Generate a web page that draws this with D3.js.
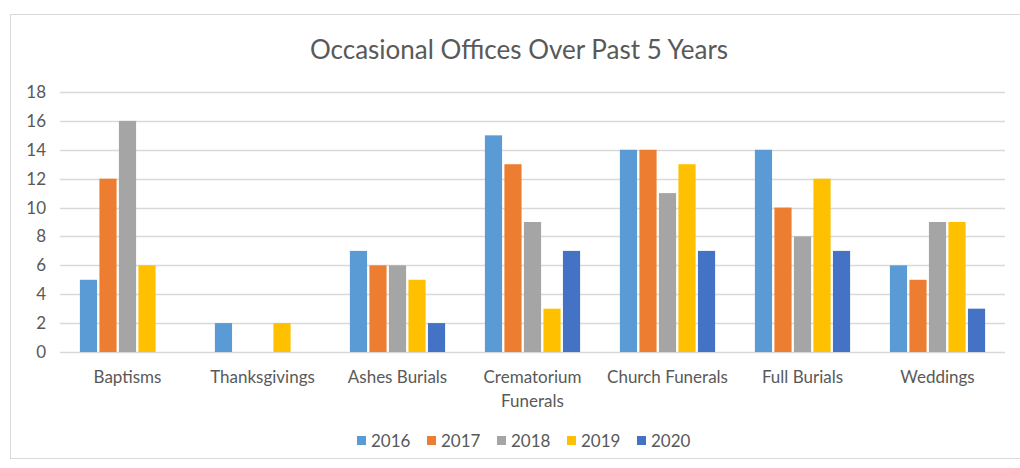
<!DOCTYPE html>
<html>
<head>
<meta charset="utf-8">
<script src="https://cdn.jsdelivr.net/npm/d3@7"></script>
<style>
  body { margin: 0; background: #fff; }
  text { font-family: Lato, "Open Sans", sans-serif; fill: #595959; }
</style>
</head>
<body>
<svg id="chart"></svg>
<script>
const categories = ['Baptisms', 'Thanksgivings', 'Ashes Burials', 'Crematorium Funerals', 'Church Funerals', 'Full Burials', 'Weddings'];
const years = ['2016', '2017', '2018', '2019', '2020'];
const v2016 = [5, 2, 7, 15, 14, 14, 6];
const v2017 = [12, 0, 6, 13, 14, 10, 5];
const v2018 = [16, 0, 6, 9, 11, 8, 9];
const v2019 = [6, 2, 5, 3, 13, 12, 9];
const v2020 = [0, 0, 2, 7, 7, 7, 3];
const yTicks = [0, 2, 4, 6, 8, 10, 12, 14, 16, 18];
const colors = ['#5B9BD5', '#ED7D31', '#A5A5A5', '#FFC000', '#4472C4'];

const seriesValues = [v2016, v2017, v2018, v2019, v2020];

const width = 1020, height = 468;
const margin = { top: 92, bottom: 116, left: 60, right: 15 };

let svg = d3.select('#chart')
  .attr('width', width)
  .attr('height', height);

// outer frame
svg.append('rect')
  .attr('x', 10.5)
  .attr('y', 14.5)
  .attr('width', 1030)
  .attr('height', 444)
  .attr('fill', 'none')
  .attr('stroke', '#d9d9d9');

svg.append('text')
  .attr('x', 519)
  .attr('y', 59)
  .attr('text-anchor', 'middle')
  .style('font-size', '26px')
  .text('Occasional Offices Over Past 5 Years');

let x0 = d3.scaleBand()
  .domain(categories)
  .range([margin.left, width - margin.right])
  .paddingInner(0.26)
  .paddingOuter(0.13);

let x1 = d3.scaleBand()
  .domain(years)
  .range([0, x0.bandwidth()])
  .padding(0.12);

let y = d3.scaleLinear()
  .domain([0, 18])
  .range([height - margin.bottom, margin.top]);

// gridlines
svg.append('g')
  .selectAll('line')
  .data(yTicks)
  .enter()
  .append('line')
  .attr('x1', margin.left)
  .attr('x2', width - margin.right)
  .attr('y1', d => Math.round(y(d)) + 0.5)
  .attr('y2', d => Math.round(y(d)) + 0.5)
  .attr('stroke', '#d9d9d9')
  .attr('stroke-width', 1.5);

// y axis labels
let yAxis = svg.append('g')
  .attr('transform', `translate(${margin.left - 14}, 0)`)
  .call(d3.axisLeft(y).tickValues(yTicks).tickSize(0).tickPadding(0));
yAxis.select('.domain').remove();
yAxis.selectAll('text')
  .style('font-size', '17px')
  .attr('fill', '#595959');

// bars
let groups = svg.append('g')
  .selectAll('g')
  .data(categories)
  .enter()
  .append('g')
  .attr('transform', d => `translate(${x0(d)}, 0)`);

groups.selectAll('rect')
  .data((d, i) => years.map((yr, j) => ({ year: yr, value: seriesValues[j][i], idx: j })))
  .enter()
  .append('rect')
  .attr('x', d => x1(d.year))
  .attr('width', x1.bandwidth())
  .attr('y', d => y(d.value))
  .attr('height', d => y(0) - y(d.value))
  .attr('fill', d => colors[d.idx]);

// category labels (wrapped)
let xAxis = svg.append('g')
  .attr('transform', `translate(0, ${y(0)})`)
  .call(d3.axisBottom(x0).tickSize(0).tickPadding(19));
xAxis.select('.domain').remove();
xAxis.selectAll('text')
  .style('font-size', '17px')
  .attr('fill', '#595959')
  .each(function (d) {
    let t = d3.select(this);
    t.text(null);
    let words = d.split(' ');
    let lines = [];
    let line = [];
    let tmp = t.append('tspan');
    words.forEach(w => {
      line.push(w);
      tmp.text(line.join(' '));
      if (tmp.node().getComputedTextLength() > 135 && line.length > 1) {
        line.pop();
        lines.push(line.join(' '));
        line = [w];
      }
    });
    lines.push(line.join(' '));
    tmp.remove();
    lines.forEach((l, i) => {
      t.append('tspan')
        .attr('x', 0)
        .attr('dy', i === 0 ? '0.71em' : '1.4em')
        .text(l);
    });
  });
xAxis.selectAll('text').attr('dy', null);

// legend
let legend = svg.append('g')
  .attr('transform', 'translate(357, 441)');

let items = legend.selectAll('g')
  .data(years)
  .enter()
  .append('g')
  .attr('transform', (d, i) => `translate(${i * 70}, 0)`);

items.append('rect')
  .attr('x', 0)
  .attr('y', -5)
  .attr('width', 9)
  .attr('height', 9)
  .attr('fill', (d, i) => colors[i]);

items.append('text')
  .attr('x', 14)
  .attr('y', 0)
  .attr('dy', '0.35em')
  .style('font-size', '17px')
  .text(d => d);
</script>
</body>
</html>
